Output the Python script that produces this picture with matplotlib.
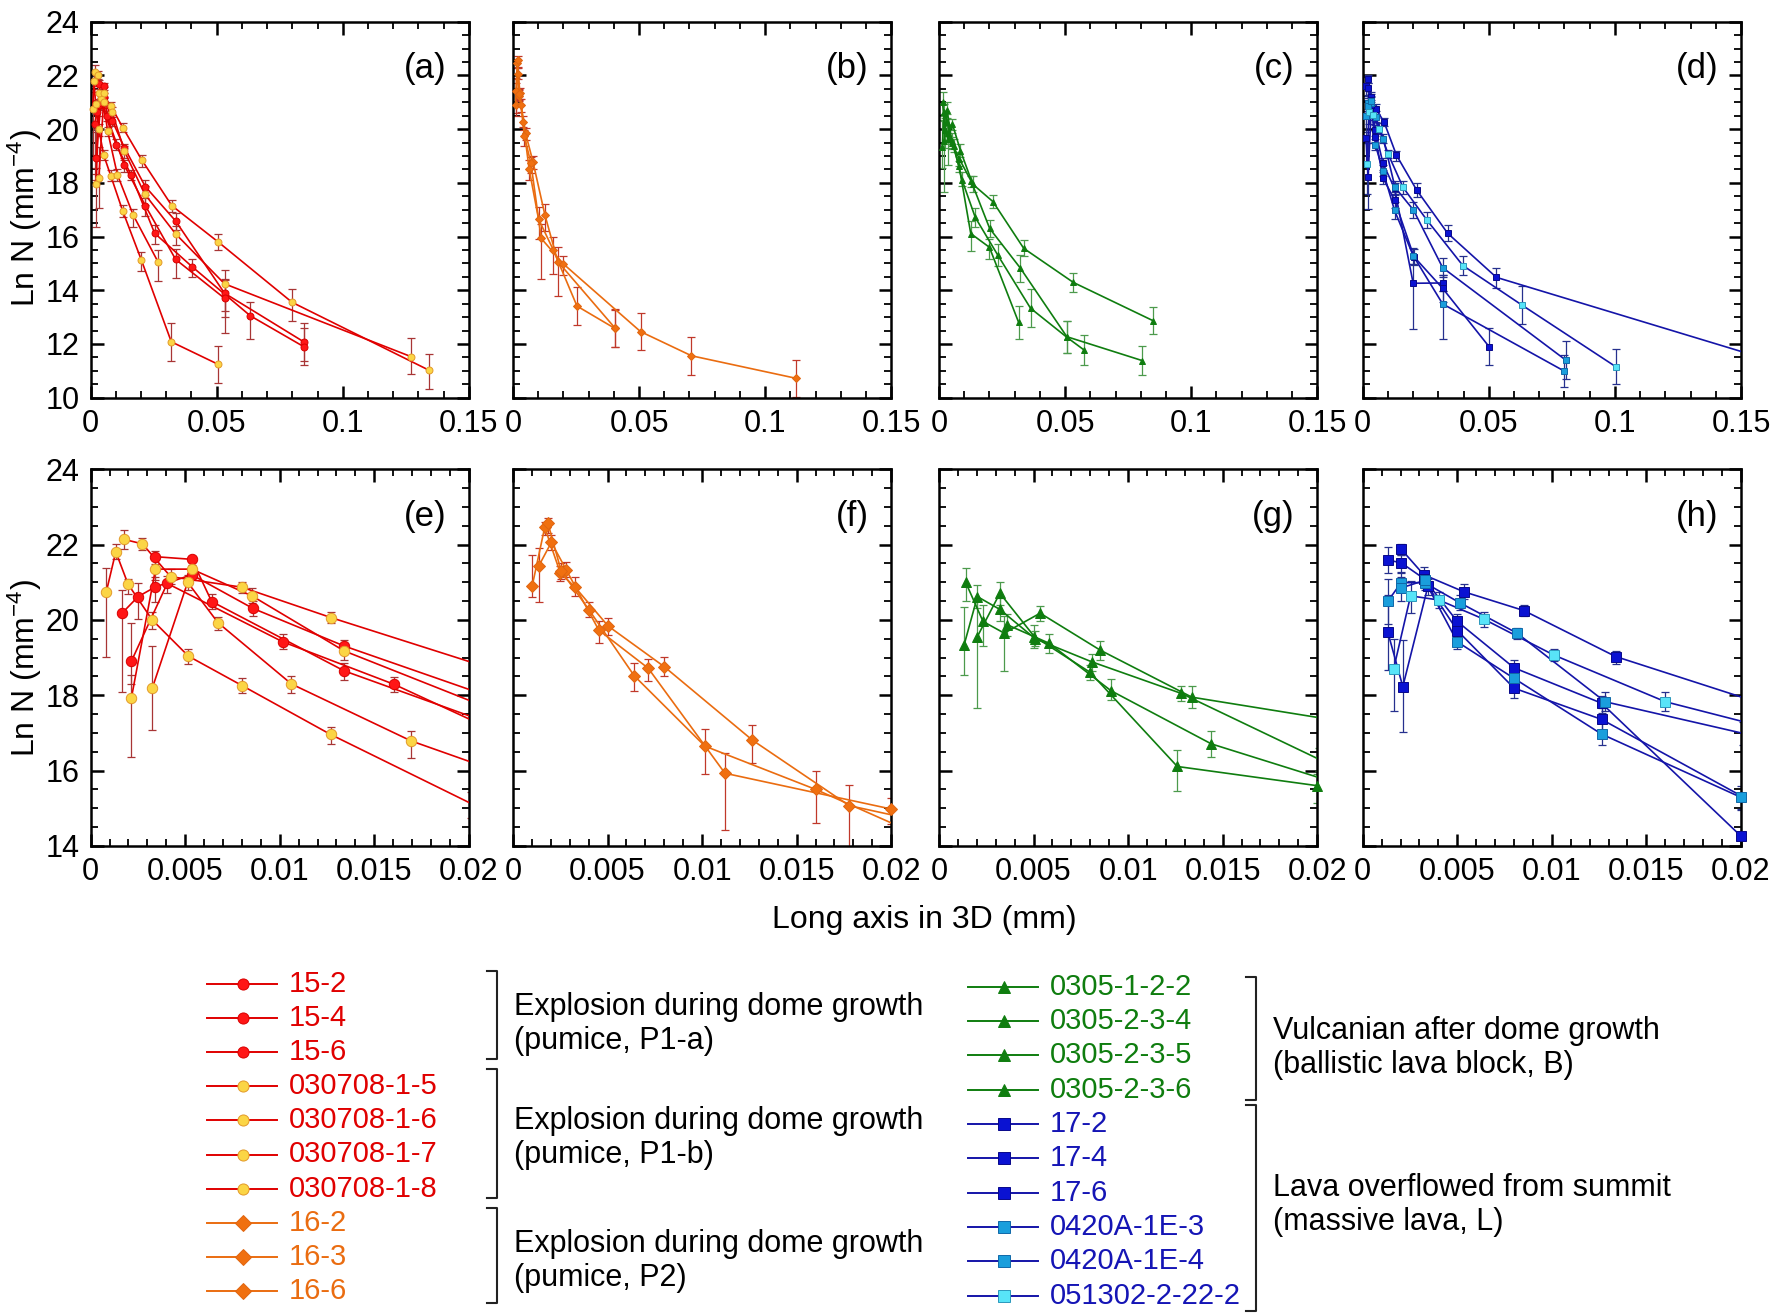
import numpy as np
import matplotlib
matplotlib.use('Agg')
import matplotlib.pyplot as plt
from matplotlib.ticker import MultipleLocator, FuncFormatter

plt.rcParams['font.family'] = ['Liberation Sans', 'DejaVu Sans']
plt.rcParams['mathtext.fontset'] = 'custom'
plt.rcParams['mathtext.rm'] = 'Liberation Sans'
plt.rcParams['mathtext.it'] = 'Liberation Sans:italic'

# ---- data: long axis (mm) vs Ln N, error bars as (lower, upper) ----
red_names = ['15-2', '15-4', '15-6']
red_x = [[0.00168, 0.00251, 0.00343, 0.00535, 0.00857, 0.0134, 0.0217, 0.0337, 0.0531, 0.0845],
         [0.00343, 0.00535, 0.0064, 0.0134, 0.0217, 0.0337, 0.0531],
         [0.00216, 0.00405, 0.01016, 0.01605, 0.0254, 0.0402, 0.0633, 0.0845]]
red_y = [[20.19, 20.62, 20.88, 21.2, 20.31, 19.31, 17.86, 16.58, 13.89, 12.08],
         [21.68, 21.61, 20.49, 18.65, 17.15, 15.15, 13.70],
         [18.91, 20.97, 19.42, 18.29, 16.12, 14.88, 13.05, 11.90]]
red_lo = [[2.1, 0.6, 0.4, 0.15, 0.2, 0.2, 0.3, 0.35, 0.9, 0.7],
          [0.2, 0.15, 0.2, 0.25, 0.4, 0.7, 1.3],
          [0.6, 0.25, 0.2, 0.2, 0.4, 0.4, 0.85, 0.7]]
red_hi = [[0.6, 0.35, 0.25, 0.15, 0.2, 0.15, 0.25, 0.3, 0.5, 0.7],
          [0.15, 0.1, 0.2, 0.2, 0.3, 0.4, 0.7],
          [1.0, 0.2, 0.2, 0.2, 0.3, 0.3, 0.5, 0.7]]

yel_names = ['030708-1-5', '030708-1-6', '030708-1-7', '030708-1-8']
yel_x = [[0.00083, 0.00133, 0.00198, 0.00326, 0.00517, 0.008, 0.01269, 0.0201, 0.032, 0.0506],
         [0.00177, 0.00274, 0.00423, 0.008, 0.01273, 0.0203, 0.0322, 0.0507, 0.0799, 0.134],
         [0.00216, 0.00343, 0.00535, 0.00853, 0.0134, 0.0214, 0.0337, 0.0531, 0.127],
         [0.00326, 0.00513, 0.00673, 0.01062, 0.01694, 0.0267]]
yel_y = [[20.75, 21.81, 20.95, 20.0, 19.04, 18.26, 16.96, 15.13, 12.08, 11.24],
         [22.14, 22.02, 21.15, 20.87, 20.06, 18.85, 17.15, 15.79, 13.55, 11.03],
         [17.94, 21.35, 21.35, 20.64, 19.18, 17.59, 16.10, 14.24, 11.53],
         [18.19, 21.0, 19.93, 18.30, 16.79, 15.06]]
yel_lo = [[1.72, 0.2, 0.25, 0.25, 0.2, 0.2, 0.25, 0.4, 0.7, 0.7],
          [0.25, 0.15, 0.2, 0.15, 0.15, 0.25, 0.25, 0.3, 0.7, 0.7],
          [1.57, 0.3, 0.2, 0.2, 0.25, 0.4, 0.4, 1.0, 0.65],
          [1.11, 0.2, 0.2, 0.25, 0.45, 0.7]]
yel_hi = [[0.62, 0.2, 0.15, 0.2, 0.2, 0.2, 0.2, 0.3, 0.7, 0.7],
          [0.25, 0.15, 0.2, 0.15, 0.15, 0.2, 0.2, 0.3, 0.5, 0.6],
          [0.6, 0.3, 0.2, 0.2, 0.2, 0.3, 0.3, 0.5, 0.7],
          [1.13, 0.2, 0.15, 0.2, 0.25, 0.45]]

ora_names = ['16-2', '16-3', '16-6']
ora_x = [[0.00102, 0.00168, 0.00251, 0.00327, 0.00503, 0.008, 0.01266, 0.01778, 0.0404],
         [0.00136, 0.00203, 0.00282, 0.00454, 0.00715, 0.01121, 0.02, 0.0506, 0.0708, 0.1123],
         [0.00185, 0.00255, 0.00402, 0.00641, 0.01015, 0.01601, 0.0254, 0.0404]]
ora_y = [[20.91, 22.46, 21.24, 20.88, 19.84, 18.76, 16.81, 15.07, 12.60],
         [21.43, 22.06, 21.33, 19.73, 18.72, 15.93, 14.98, 12.46, 11.56, 10.72],
         [22.57, 21.30, 20.27, 18.52, 16.65, 15.50, 13.41, 12.58]]
ora_lo = [[0.3, 0.2, 0.2, 0.25, 0.25, 0.25, 0.6, 1.3, 0.7],
          [0.95, 0.2, 0.2, 0.35, 0.35, 1.5, 0.4, 0.7, 0.7, 0.7],
          [0.25, 0.2, 0.2, 0.4, 0.75, 0.9, 0.7, 0.7]]
ora_hi = [[0.82, 0.15, 0.2, 0.25, 0.2, 0.25, 0.4, 0.55, 0.7],
          [0.47, 0.2, 0.2, 0.25, 0.25, 0.55, 0.3, 0.7, 0.7, 0.7],
          [0.15, 0.2, 0.2, 0.33, 0.45, 0.5, 0.7, 0.7]]

grn_names = ['0305-1-2-2', '0305-2-3-4', '0305-2-3-5', '0305-2-3-6']
grn_x = [[0.00141, 0.00233, 0.00345, 0.00535, 0.00852, 0.01337, 0.0214, 0.0336, 0.0533, 0.0848],
         [0.00133, 0.00203, 0.00322, 0.00509, 0.00807, 0.01281, 0.0201, 0.0323, 0.0507, 0.0806],
         [0.00203, 0.00322, 0.00504, 0.00799, 0.0126, 0.02, 0.0316],
         [0.00362, 0.00583, 0.0091, 0.0144, 0.0233, 0.0363, 0.0507, 0.0576]]
grn_y = [[21.0, 19.96, 19.65, 20.18, 19.2, 17.95, 17.30, 15.56, 14.29, 12.87],
         [19.34, 20.62, 20.28, 19.50, 18.89, 18.05, 16.30, 14.82, 12.27, 11.38],
         [19.56, 20.71, 19.56, 18.61, 16.11, 15.6, 12.80],
         [19.87, 19.38, 18.12, 16.71, 15.31, 13.33, 12.25, 11.77]]
grn_lo = [[0.5, 0.65, 1.0, 0.2, 0.25, 0.3, 0.25, 0.3, 0.35, 0.5],
          [0.8, 0.3, 0.3, 0.2, 0.25, 0.2, 0.3, 0.5, 0.6, 0.55],
          [1.9, 0.3, 0.3, 0.2, 0.65, 0.45, 0.6],
          [0.3, 0.25, 0.25, 0.35, 0.4, 0.7, 0.6, 0.55]]
grn_hi = [[0.38, 0.45, 0.45, 0.2, 0.25, 0.3, 0.25, 0.3, 0.35, 0.5],
          [1.0, 0.3, 0.3, 0.2, 0.2, 0.2, 0.3, 0.5, 0.6, 0.55],
          [1.0, 0.3, 0.3, 0.2, 0.45, 0.3, 0.6],
          [0.3, 0.25, 0.3, 0.35, 0.4, 0.7, 0.6, 0.55]]

blu_names = ['17-2', '17-4', '17-6', '0420A-1E-3', '0420A-1E-4', '051302-2-22-2']
blu_x = [[0.00203, 0.00323, 0.00534, 0.00852, 0.01337, 0.0214, 0.0337, 0.053, 0.2],
         [0.00133, 0.00203, 0.00323, 0.005, 0.008, 0.01263, 0.02, 0.0317],
         [0.00133, 0.00212, 0.00345, 0.005, 0.008, 0.01263, 0.0203, 0.0317, 0.0501],
         [0.00133, 0.00203, 0.00327, 0.00512, 0.00816, 0.01281, 0.0201, 0.0317, 0.0805],
         [0.00203, 0.00327, 0.005, 0.008, 0.01263, 0.02, 0.0317, 0.0799],
         [0.00163, 0.00253, 0.00403, 0.00641, 0.0101, 0.016, 0.0254, 0.0397, 0.0631, 0.1004]]
blu_y = [[21.88, 21.2, 20.75, 20.25, 19.03, 17.73, 16.12, 14.48, 10.3],
         [21.59, 21.52, 21.1, 19.96, 18.73, 17.79, 14.26, 14.27],
         [19.67, 18.23, 20.9, 19.72, 18.19, 17.36, 15.25, 14.07, 11.9],
         [20.50, 20.99, 20.99, 20.46, 19.65, 17.83, 16.99, 14.84, 11.40],
         [20.85, 21.05, 19.42, 18.45, 16.97, 15.29, 13.49, 10.99],
         [18.69, 20.64, 20.53, 20.02, 19.07, 17.83, 16.62, 14.92, 13.45, 11.15]]
blu_lo = [[0.15, 0.2, 0.2, 0.15, 0.2, 0.25, 0.3, 0.4, 0.0],
          [0.35, 0.25, 0.2, 0.2, 0.25, 0.25, 1.7, 0.3],
          [1.0, 1.2, 0.25, 0.2, 0.25, 0.3, 0.3, 0.5, 0.7],
          [0.6, 0.25, 0.2, 0.2, 0.15, 0.25, 0.3, 0.35, 0.7],
          [0.35, 0.2, 0.2, 0.2, 0.3, 0.3, 1.3, 0.6],
          [1.1, 0.45, 0.2, 0.2, 0.15, 0.25, 0.3, 0.35, 0.7, 0.65]]
blu_hi = [[0.15, 0.2, 0.2, 0.15, 0.15, 0.25, 0.3, 0.35, 0.0],
          [0.35, 0.2, 0.2, 0.2, 0.2, 0.2, 0.7, 0.3],
          [1.0, 1.25, 0.2, 0.2, 0.2, 0.3, 0.3, 0.5, 0.7],
          [0.6, 0.25, 0.2, 0.2, 0.15, 0.25, 0.3, 0.35, 0.7],
          [0.3, 0.2, 0.2, 0.2, 0.3, 0.3, 0.5, 0.6],
          [0.8, 0.4, 0.2, 0.2, 0.15, 0.25, 0.3, 0.35, 0.7, 0.65]]

# ---- styles ----
RED = '#e00000'
ORANGE = '#ea6c10'
GREEN = '#0f7d0f'
BLUE = '#1414a8'
red_sty = dict(color=RED, marker='o', mfc='#ff1616', mec='#d80000')
yel_sty = dict(color=RED, marker='o', mfc='#fbd545', mec='#e39a2a')
ora_sty = dict(color=ORANGE, marker='D', mfc='#f07010', mec='#e06510')
grn_sty = dict(color=GREEN, marker='^', mfc=GREEN, mec=GREEN)
blu_fill = ['#0a12d2', '#0a12d2', '#0a12d2', '#1a9edc', '#1a9edc', '#58e4f8']
blu_edge = ['#08088a', '#08088a', '#08088a', '#1068a8', '#1068a8', '#2c98bc']

groups = [
    [(red_x, red_y, red_lo, red_hi, [red_sty] * 3, '#a83535'),
     (yel_x, yel_y, yel_lo, yel_hi, [yel_sty] * 4, '#a83535')],
    [(ora_x, ora_y, ora_lo, ora_hi, [ora_sty] * 3, '#c0382a')],
    [(grn_x, grn_y, grn_lo, grn_hi, [grn_sty] * 4, '#4c9a4c')],
    [(blu_x, blu_y, blu_lo, blu_hi,
      [dict(color=BLUE, marker='s', mfc=f, mec=e) for f, e in zip(blu_fill, blu_edge)], '#26308e')],
]

fig = plt.figure(figsize=(17.7, 13.15), dpi=100)

# legend layer in pixel coordinates
lax = fig.add_axes([0, 0, 1, 1])
lax.set_xlim(0, 1770)
lax.set_ylim(1315, 0)
lax.axis('off')

lefts = [0.0512, 0.2898, 0.5305, 0.7699]
width = 0.2137
rows = [(0.6976, 0.2859, (0, 0.15), (10, 24), 0.05, 0.01, 5.0, 'abcd', 0.478),
        (0.3567, 0.2864, (0, 0.02), (14, 24), 0.005, 0.001, 7.5, 'efgh', 0.473)]

for bottom, height, xl, yl, xmaj, xmin, ms, letters, ylab_y in rows:
    for col in range(4):
        ax = fig.add_axes([lefts[col], bottom, width, height])
        for xs, ys, los, his, stys, ecol in groups[col]:
            for i in range(len(xs)):
                ax.errorbar(xs[i], ys[i], yerr=[los[i], his[i]], fmt='none', ecolor=ecol,
                            elinewidth=0.9, capsize=3, capthick=0.9, zorder=2)
        for xs, ys, los, his, stys, ecol in groups[col]:
            for i in range(len(xs)):
                s = stys[i]
                m = ms * (0.8 if s['marker'] == 'D' else 1.0)
                ax.plot(xs[i], ys[i], color=s['color'], lw=1.2, zorder=3)
                # markers sitting on the frame are drawn whole, like the original
                xa = np.array(xs[i])
                ya = np.array(ys[i])
                keep = (xa <= xl[1] + 1e-9) & (ya >= yl[0]) & (ya <= yl[1])
                ax.plot(xa[keep], ya[keep], linestyle='none', marker=s['marker'],
                        markersize=m, markerfacecolor=s['mfc'], markeredgecolor=s['mec'],
                        markeredgewidth=0.7, zorder=4, clip_on=False)
        ax.set_xlim(*xl)
        ax.set_ylim(*yl)
        ax.xaxis.set_major_locator(MultipleLocator(xmaj))
        ax.xaxis.set_minor_locator(MultipleLocator(xmin))
        ax.yaxis.set_major_locator(MultipleLocator(2))
        ax.yaxis.set_minor_locator(MultipleLocator(0.5))
        ax.xaxis.set_major_formatter(FuncFormatter(lambda v, p: '%g' % round(v, 6)))
        ax.tick_params(which='both', direction='in', top=True, right=True, labelsize=22)
        ax.tick_params(which='major', length=9, width=1.8, pad=8)
        ax.tick_params(which='minor', length=5, width=1.3)
        for sp in ax.spines.values():
            sp.set_linewidth(1.8)
        if col == 0:
            ax.set_ylabel('Ln N (mm$^{-4}$)', fontsize=23)
            ax.yaxis.set_label_coords(-0.122, ylab_y)
        else:
            ax.tick_params(labelleft=False)
        ax.text(0.94, 0.875, '(%s)' % letters[col], transform=ax.transAxes,
                ha='right', va='center', fontsize=25)

fig.text(0.522, 1 - 920 / 1315, 'Long axis in 3D (mm)', ha='center', va='center', fontsize=23)

# ---- legend ----
def entry(x0, y, name, sty, tcol, line_col):
    lax.plot([x0, x0 + 70], [y, y], color=line_col, lw=1.4)
    m = 8 if sty['marker'] != 'D' else 8.5
    lax.plot(x0 + 36, y, marker=sty['marker'], markersize=m, markerfacecolor=sty['mfc'],
             markeredgecolor=sty['mec'], markeredgewidth=0.7, linestyle='none')
    lax.text(x0 + 82, y, name, color=tcol, va='center', ha='left', fontsize=21)

left_items = ([(n, red_sty, RED, RED) for n in red_names] +
              [(n, yel_sty, RED, RED) for n in yel_names] +
              [(n, ora_sty, ORANGE, ORANGE) for n in ora_names])
for i, (n, s, tc, lc) in enumerate(left_items):
    entry(207, 984 + i * 34.1, n, s, tc, lc)

right_items = ([(n, grn_sty, GREEN, GREEN) for n in grn_names] +
               [(n, dict(marker='s', mfc=f, mec=e), '#1515b5', BLUE)
                for n, f, e in zip(blu_names, blu_fill, blu_edge)])
for i, (n, s, tc, lc) in enumerate(right_items):
    entry(968, 986.5 + i * 34.35, n, s, tc, lc)

def bracket(x, y0, y1):
    lax.plot([x - 10, x, x, x - 10], [y0, y0, y1, y1], color='#222222', lw=1.5)

for y0, y1 in [(971, 1059), (1069, 1198), (1208, 1303)]:
    bracket(497, y0, y1)
for y0, y1 in [(977, 1100), (1105, 1311)]:
    bracket(1256, y0, y1)

group_text = [(514, 1007, 'Explosion during dome growth'), (514, 1041, '(pumice, P1-a)'),
              (514, 1121, 'Explosion during dome growth'), (514, 1155, '(pumice, P1-b)'),
              (514, 1244, 'Explosion during dome growth'), (514, 1278, '(pumice, P2)'),
              (1273, 1031, 'Vulcanian after dome growth'), (1273, 1065, '(ballistic lava block, B)'),
              (1273, 1188, 'Lava overflowed from summit'), (1273, 1222, '(massive lava, L)')]
for x, y, t in group_text:
    lax.text(x, y, t, ha='left', va='center', fontsize=22, color='black')

fig.savefig('out.png', dpi=100)
